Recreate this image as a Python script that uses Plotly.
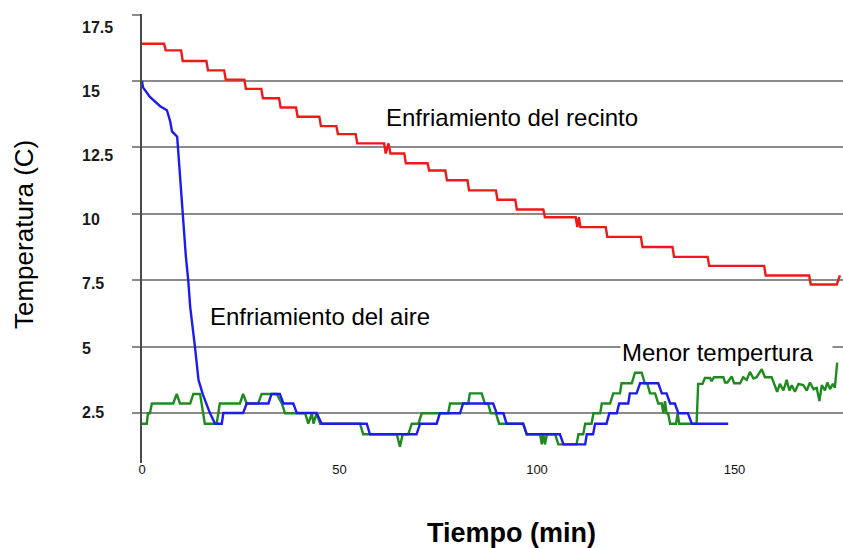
import plotly.graph_objects as go

# ---------------- data ----------------
# Enfriamiento del recinto (red)
red_t = [0, 5.6, 6.0, 9.9, 10.3, 16.3, 16.7, 20.8, 21.2, 25.9,
         26.3, 30.2, 30.6, 34.7, 35.1, 39.0, 39.4, 44.9, 45.3, 49.2,
         49.6, 54.1, 54.5, 61.3, 61.7, 62.4, 62.9, 66.4, 66.8, 72.3,
         72.7, 76.8, 77.2, 82.4, 82.8, 89.6, 90.0, 94.5, 94.9, 101.6,
         102.0, 109.8, 110.2, 110.6, 111.0, 117.4, 117.8, 126.3, 126.7, 134.3,
         134.7, 143.2, 143.6, 157.5, 157.9, 168.9, 169.3, 175.9, 176.7]
red_v = [16.4, 16.4, 16.15, 16.15, 15.75, 15.75, 15.4, 15.4, 15.05, 15.05,
         14.7, 14.7, 14.35, 14.35, 14.0, 14.0, 13.65, 13.65, 13.3, 13.3,
         13.0, 13.0, 12.65, 12.65, 12.27, 12.65, 12.27, 12.27, 11.9, 11.9,
         11.63, 11.63, 11.26, 11.26, 10.88, 10.88, 10.53, 10.53, 10.16, 10.16,
         9.87, 9.87, 9.5, 9.87, 9.5, 9.5, 9.13, 9.13, 8.75, 8.75,
         8.38, 8.38, 8.04, 8.04, 7.68, 7.68, 7.34, 7.34, 7.68]

# Enfriamiento del aire (blue)
blue_t = [0, 0.25, 2.0, 4.6, 6.3, 7.1, 7.6, 8.9, 9.1, 10.3,
          11.1, 11.7, 12.2, 13.4, 14.3, 15.4, 17.2, 18.5, 20.2, 20.6,
          25.6, 26.5, 32.0, 32.8, 34.9, 35.8, 38.3, 39.2, 44.2, 45.5,
          56.9, 57.7, 69.5, 70.4, 74.6, 75.4, 80.5, 81.3, 88.9, 89.8,
          91.5, 92.3, 96.5, 97.4, 105.8, 106.7, 112.2, 112.6, 114.2, 114.7,
          117.6, 118.3, 120.2, 120.8, 123.1, 123.5, 125.2, 126.1, 130.7, 131.6,
          132.8, 133.7, 134.9, 135.8, 138.2, 139.2, 148.4]
blue_v = [15.0, 14.76, 14.4, 14.05, 13.9, 13.5, 13.1, 12.9, 12.5, 10.0,
          8.4, 7.5, 6.5, 5.0, 3.75, 3.2, 2.5, 2.1, 2.1, 2.5,
          2.5, 2.86, 2.86, 3.22, 3.22, 2.86, 2.86, 2.5, 2.5, 2.1,
          2.1, 1.7, 1.7, 2.1, 2.1, 2.49, 2.49, 2.86, 2.86, 2.49,
          2.49, 2.1, 2.1, 1.7, 1.7, 1.32, 1.32, 1.7, 1.7, 2.1,
          2.1, 2.49, 2.49, 2.86, 2.86, 3.24, 3.24, 3.62, 3.62, 3.24,
          3.24, 2.86, 2.86, 2.49, 2.49, 2.1, 2.1]

# Menor temperatura (green)
green_t = [0, 1.2, 1.5, 2.0, 2.5, 7.9, 8.8, 9.6, 12.2, 13.0,
           14.7, 15.9, 18.9, 19.7, 24.8, 25.6, 26.5, 29.4, 30.3, 34.1,
           35.4, 36.2, 41.3, 42.1, 43.0, 43.4, 44.2, 45.1, 55.2, 56.0,
           64.5, 65.3, 66.0, 67.4, 68.3, 70.0, 70.8, 77.5, 78.0, 82.6,
           83.0, 86.0, 86.8, 87.6, 88.3, 89.6, 90.4, 96.5, 97.4, 100.8,
           101.2, 101.6, 102.0, 102.5, 104.6, 105.4, 110.0, 110.5, 111.7, 112.2,
           113.8, 114.3, 116.0, 116.4, 118.5, 119.3, 121.0, 121.4, 124.0, 124.8,
           126.5, 127.3, 127.9, 128.6, 129.9, 130.7, 131.6, 132.0, 132.4, 132.8,
           133.2, 133.7, 135.2, 135.6, 136.0, 140.4, 140.8, 141.9, 142.5, 143.8,
           144.2, 144.8, 147.2, 147.6, 148.2, 149.3, 149.9, 151.4, 152.2, 153.1,
           153.9, 154.8, 155.6, 156.9, 157.7, 159.4, 160.3, 160.8, 161.5, 162.4,
           163.2, 163.9, 164.5, 165.3, 166.2, 167.4, 168.3, 169.1, 170.0, 170.8,
           171.5, 172.1, 172.9, 173.5, 174.2, 174.9, 175.4, 176.0]
green_v = [2.1, 2.1, 2.49, 2.49, 2.86, 2.86, 3.22, 2.86, 2.86, 3.22,
           3.22, 2.1, 2.1, 2.86, 2.86, 3.22, 2.86, 2.86, 3.22, 3.22,
           2.86, 2.49, 2.49, 2.1, 2.49, 2.1, 2.49, 2.1, 2.1, 1.7,
           1.7, 1.23, 1.7, 1.7, 2.1, 2.1, 2.49, 2.49, 2.86, 2.86,
           3.24, 3.24, 2.86, 2.86, 2.49, 2.49, 2.1, 2.1, 1.7, 1.7,
           1.32, 1.7, 1.32, 1.7, 1.7, 1.32, 1.32, 1.7, 1.7, 2.1,
           2.1, 2.49, 2.49, 2.86, 2.86, 3.24, 3.24, 3.62, 3.62, 4.02,
           4.02, 3.62, 3.62, 3.24, 3.24, 2.86, 2.86, 2.49, 2.95, 2.49,
           2.49, 2.1, 2.1, 2.49, 2.1, 2.1, 3.6, 3.6, 3.82, 3.82,
           3.7, 3.85, 3.85, 3.65, 3.65, 3.88, 3.62, 3.62, 3.85, 3.75,
           4.05, 3.8, 3.85, 4.15, 3.85, 3.85, 3.5, 3.3, 3.6, 3.35,
           3.75, 3.35, 3.55, 3.3, 3.6, 3.55, 3.35, 3.65, 3.4, 3.45,
           2.95, 3.55, 3.35, 3.65, 3.4, 3.6, 3.45, 4.4]

x_ticks = [0, 50, 100, 150]
y_ticks = [17.5, 15, 12.5, 10, 7.5, 5, 2.5]
y_tick_labels = ["17.5", "15", "12.5", "10", "7.5", "5", "2.5"]

# ---------------- figure ----------------
W, H = 843, 548
ML, MR, MT, MB = 142, 0, 14, 85
PW, PH = W - ML - MR, H - MT - MB
FONT = "Arial, Liberation Sans, sans-serif"


def px_x(px):
    return (px - ML) / PW


def px_y(py):
    return 1 - (py - MT) / PH


fig = go.Figure()
fig.add_trace(go.Scatter(x=green_t, y=green_v, mode="lines",
                         line=dict(color="#1f8a1f", width=2.4), name="Menor tempertura"))
fig.add_trace(go.Scatter(x=blue_t, y=blue_v, mode="lines",
                         line=dict(color="#1c1cf0", width=2.4), name="Enfriamiento del aire"))
fig.add_trace(go.Scatter(x=red_t, y=red_v, mode="lines",
                         line=dict(color="#f01818", width=2.4), name="Enfriamiento del recinto"))

annotations = []
# y tick labels (left aligned, bold)
for i, lab in enumerate(y_tick_labels):
    annotations.append(dict(text=lab, xref="paper", yref="paper",
                            x=px_x(80), y=px_y(27.5 + i * 64.1),
                            xanchor="left", yanchor="middle", showarrow=False,
                            font=dict(family=FONT, size=16, color="#1a1a1a", weight="bold")))

annotations += [
    dict(text="Enfriamiento del recinto", xref="paper", yref="paper",
         x=px_x(384), y=px_y(117), xanchor="left", yanchor="middle", showarrow=False,
         font=dict(family=FONT, size=24, color="black")),
    dict(text="Enfriamiento del aire", xref="paper", yref="paper",
         x=px_x(208), y=px_y(316), xanchor="left", yanchor="middle", showarrow=False,
         font=dict(family=FONT, size=24, color="black")),
    dict(text="Menor tempertura", xref="paper", yref="paper",
         x=px_x(620), y=px_y(352), xanchor="left", yanchor="middle", showarrow=False,
         width=209, align="left", bgcolor="white", borderpad=1,
         font=dict(family=FONT, size=24, color="black")),
    dict(text="Temperatura (C)", xref="paper", yref="paper",
         x=px_x(24), y=px_y(235), xanchor="center", yanchor="middle", showarrow=False,
         textangle=-90, font=dict(family=FONT, size=26, color="black")),
    dict(text="<b>Tiempo (min)</b>", xref="paper", yref="paper",
         x=px_x(511), y=px_y(533), xanchor="center", yanchor="middle", showarrow=False,
         font=dict(family=FONT, size=27, color="black")),
]

fig.update_layout(
    width=W, height=H,
    margin=dict(l=ML, r=MR, t=MT, b=MB, pad=0),
    paper_bgcolor="white", plot_bgcolor="white",
    showlegend=False,
    annotations=annotations,
    xaxis=dict(range=[0, PW / 3.95], tickvals=x_ticks, ticks="", showgrid=False,
               zeroline=False, showline=False, ticklabelstandoff=-3,
               tickfont=dict(family=FONT, size=13, color="#111")),
    yaxis=dict(range=[2.5 - (463 - 413) / 26.6, 17.52], tickvals=y_ticks,
               showticklabels=False, ticks="outside", ticklen=8,
               tickcolor="#8a8a8a", tickwidth=1.5,
               showgrid=True, gridcolor="#8a8a8a", gridwidth=1.5,
               zeroline=False, showline=True, linecolor="#4a4a4a", linewidth=1.5),
)

fig.write_html("out.html", config={"displayModeBar": False},
               post_script="document.body.style.margin='0';document.body.style.overflow='hidden';")
